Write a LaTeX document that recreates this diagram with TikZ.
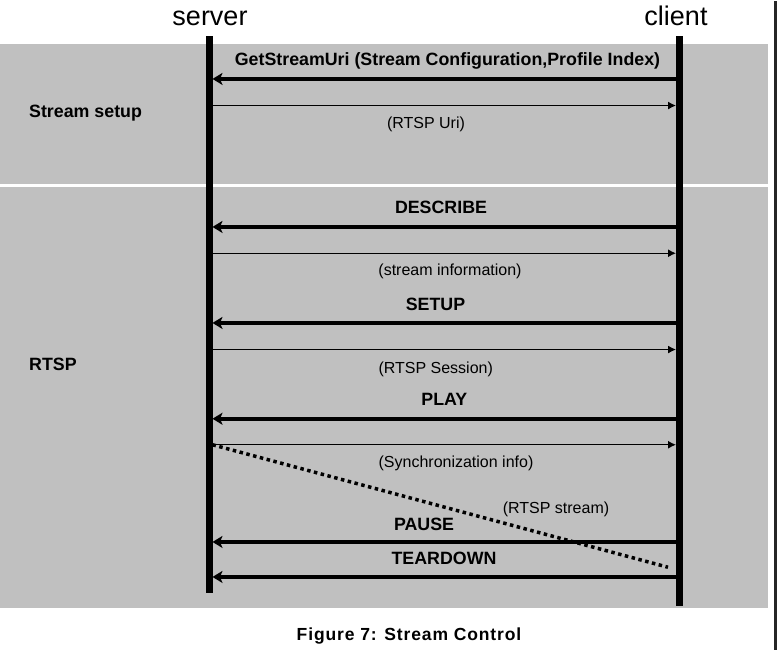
\documentclass[tikz,border=0pt]{standalone}
\usepackage{fontspec}
\setmainfont{Liberation Sans}
\newfontfamily\capfont[LetterSpace=5]{Liberation Sans}
\usetikzlibrary{arrows.meta}
\definecolor{bandgray}{RGB}{192,192,192}

\begin{document}
\begin{tikzpicture}[x=1bp,y=-1bp,
  every node/.style={inner sep=0pt},
  lifeline/.style={line width=7bp},
  request/.style={line width=4bp,-{Stealth[length=10bp,width=12bp,inset=2.5bp]}},
  reply/.style={line width=1.2bp,-{Latex[length=8bp,width=8bp]}},
  stream/.style={line width=3.5bp,dash pattern=on 3.5bp off 3.5bp},
  cmd/.style={font=\fontsize{17.8bp}{20bp}\selectfont\bfseries},
  info/.style={font=\fontsize{16bp}{19bp}\selectfont},
  actor/.style={font=\fontsize{27bp}{30bp}\selectfont}]

% page and bands
\fill[white] (0,0) rectangle (779,649);
\fill[bandgray] (0,42.7) rectangle (768,182.7);
\fill[bandgray] (0,186) rectangle (768,607);
\draw[line width=2.5bp,black!85] (775.5,0) -- (775.5,649);

% lifelines
\coordinate (srvtop) at (209,35);
\coordinate (srvbot) at (209,592);
\coordinate (clitop) at (679.5,35);
\coordinate (clibot) at (679.5,605);
\draw[lifeline] (srvtop) -- (srvbot);
\draw[lifeline] (clitop) -- (clibot);

\node[actor] (server) at (210,16.7) {server};
\node[actor] (client) at (676,14.2) {client};

\node[cmd,anchor=west] (setupphase) at (29,111.7) {Stream setup};
\node[cmd,anchor=west] (rtspphase) at (29,363) {RTSP};

% message end points
\coordinate (c1) at (676,77.7);   \coordinate (s1) at (212.5,77.7);
\coordinate (s2) at (212.5,104.3); \coordinate (c2) at (676,104.3);
\coordinate (c3) at (676,225.7);  \coordinate (s3) at (212.5,225.7);
\coordinate (s4) at (212.5,252);  \coordinate (c4) at (676,252);
\coordinate (c5) at (676,321.7);  \coordinate (s5) at (212.5,321.7);
\coordinate (s6) at (212.5,348.3); \coordinate (c6) at (676,348.3);
\coordinate (c7) at (676,417.5);  \coordinate (s7) at (212.5,417.5);
\coordinate (s8) at (212.5,443.5); \coordinate (c8) at (676,443.5);
\coordinate (c9) at (676,540.7);  \coordinate (s9) at (212.5,540.7);
\coordinate (c10) at (676,575.7); \coordinate (s10) at (212.5,575.7);
\coordinate (streamend) at (668,566);

\draw[request] (c1) -- (s1);
\draw[reply] (s2) -- (c2);
\draw[request] (c3) -- (s3);
\draw[reply] (s4) -- (c4);
\draw[request] (c5) -- (s5);
\draw[reply] (s6) -- (c6);
\draw[request] (c7) -- (s7);
\draw[reply] (s8) -- (c8);
\draw[stream] (s8) -- (streamend);
\draw[request] (c9) -- (s9);
\draw[request] (c10) -- (s10);

% labels
\node[cmd] (getstream) at (447.5,59.3) {GetStreamUri (Stream Configuration,Profile Index)};
\node[info] (rtspuri) at (426,122.7) {(RTSP Uri)};
\node[cmd] (describe) at (441,205.7) {DESCRIBE};
\node[info] (streaminfo) at (450,270) {(stream information)};
\node[cmd] (setup) at (435.5,302.7) {SETUP};
\node[info] (session) at (435.7,367.7) {(RTSP Session)};
\node[cmd] (play) at (444.3,397.7) {PLAY};
\node[info] (syncinfo) at (456,461.7) {(Synchronization info)};
\node[info] (rtspstream) at (556,508.3) {(RTSP stream)};
\node[cmd] (pause) at (424,523) {PAUSE};
\node[cmd] (teardown) at (444,556.7) {TEARDOWN};

\node[font=\fontsize{17.5bp}{20bp}\capfont\bfseries] (caption) at (409,635) {Figure 7: Stream Control};

\end{tikzpicture}
\end{document}
